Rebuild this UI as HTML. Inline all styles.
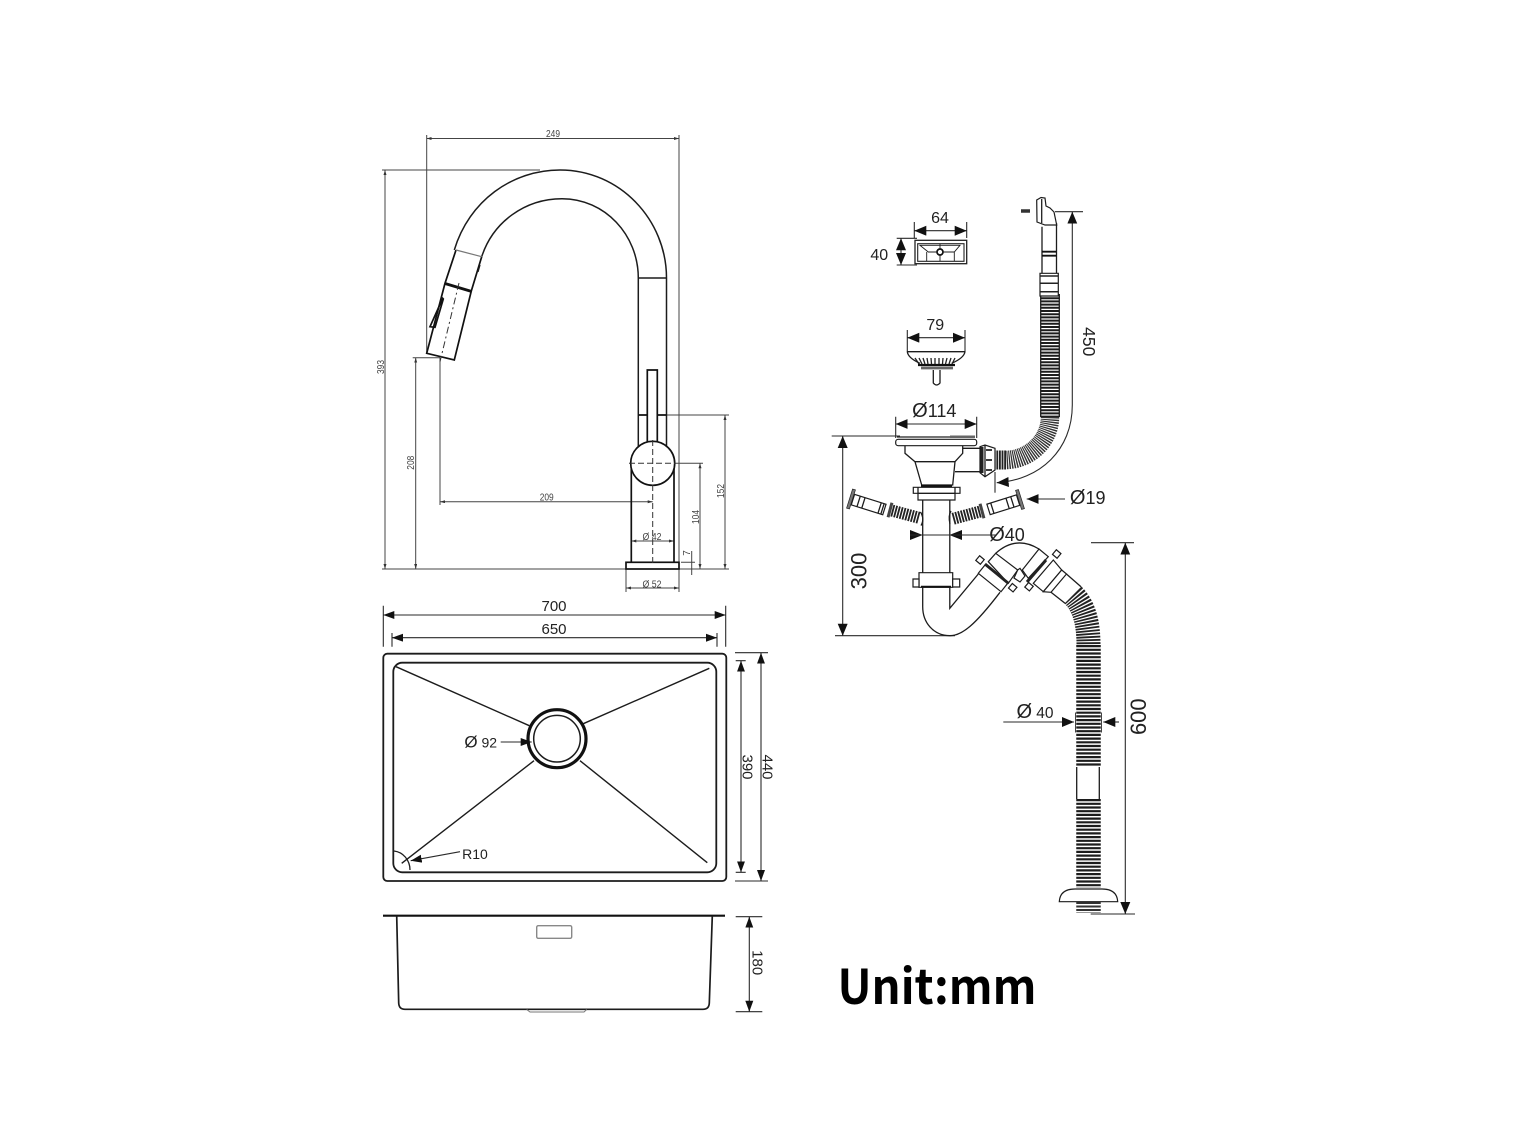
<!DOCTYPE html>
<html><head><meta charset="utf-8"><title>Sink, faucet and drain dimensions</title>
<style>
html,body{margin:0;padding:0;background:#fff;}
svg{display:block;}
text{font-family:"Liberation Sans",sans-serif;fill:#222;text-anchor:middle;}
.s{font-size:10px;fill:#444;}
.m{font-size:15px;}
.l{font-size:18px;}
.t{fill:none;stroke:#1c1c1c;stroke-width:1.3;}
.d{fill:none;stroke:#2a2a2a;stroke-width:1.1;}
.g{fill:none;stroke:#444;stroke-width:1;}
.k{fill:none;stroke:#111;stroke-width:1.7;}
.w{fill:#fff;stroke:#1c1c1c;stroke-width:1.2;}
</style></head><body>
<svg width="1524" height="1143" viewBox="0 0 1524 1143" xmlns="http://www.w3.org/2000/svg">
<defs>
<marker id="a" markerUnits="userSpaceOnUse" markerWidth="12" markerHeight="10" refX="11" refY="4" orient="auto-start-reverse"><path d="M0 0L11 4L0 8Z" fill="#111"/></marker>
<marker id="b" markerUnits="userSpaceOnUse" markerWidth="14" markerHeight="12" refX="12" refY="5" orient="auto-start-reverse"><path d="M0 0L12 5L0 10Z" fill="#111"/></marker>
<marker id="c" markerUnits="userSpaceOnUse" markerWidth="7" markerHeight="5" refX="5" refY="1.5" orient="auto-start-reverse"><path d="M0 0L5 1.5L0 3Z" fill="#333"/></marker>
</defs>

<!-- FAUCET -->
<g class="g">
<path d="M426.7 135V353M679 135V569M382 170H540M382 569H626M679 569H729M666 415H729M676 463.3H703M412.7 357.7H440M440 358V505M626 569V592M679 569V592M681 562.3H695M681 569H695"/>
<path d="M426.7 138.5H679" marker-start="url(#c)" marker-end="url(#c)"/>
<path d="M385 170V569" marker-start="url(#c)" marker-end="url(#c)"/>
<path d="M415.7 357.7V569" marker-start="url(#c)" marker-end="url(#c)"/>
<path d="M440 501.7H652.7" marker-start="url(#c)" marker-end="url(#c)"/>
<path d="M725 415V569" marker-start="url(#c)" marker-end="url(#c)"/>
<path d="M700 463.3V569" marker-start="url(#c)" marker-end="url(#c)"/>
<path d="M631.3 541H674" marker-start="url(#c)" marker-end="url(#c)"/>
<path d="M626 588H679" marker-start="url(#c)" marker-end="url(#c)"/>
<path d="M691.7 551V575"/>
</g>
<path class="t" style="stroke-width:1.5" d="M454.3 250C469 201 512 170 560 170C620 170 666.5 220 666.5 278V447M481.7 256.7C493 222 525 198.7 562 198.7C605 198.7 638.3 235 638.3 278V447M638.3 278H666.5"/>
<path class="k" d="M638.3 415H647.3M657.3 415H666.5"/>
<path class="k" d="M647.3 445V370H657.3V445"/>
<path class="k" d="M631.3 463V561.7M674 463V561.7"/>
<circle cx="652.7" cy="463.3" r="22" fill="#fff" stroke="#111" stroke-width="1.700"/>
<rect x="626" y="562.3" width="53" height="6.7" fill="#fff" stroke="#111" stroke-width="1.700"/>
<path d="M652.7 440V566M629 463.3H676" fill="none" stroke="#333" stroke-width="1" stroke-dasharray="6 3"/>
<path class="k" d="M456 250L445 283.300L426.700 353.300L454.300 360L471.300 291L481.700 256.700"/>
<path d="M445 283.500L471.700 291.500" stroke="#111" stroke-width="2.800" fill="none"/>
<path d="M456 250L481.700 256.700" stroke="#777" stroke-width="1.200" fill="none"/>
<path d="M459 283L440 361.700" stroke="#333" stroke-width="1" stroke-dasharray="7 3 2 3" fill="none"/>
<path class="k" fill="#fff" d="M442.700 298.300L430 326.700L435 327.300L443.300 299Z"/>
<path class="t" d="M480 265L478 272"/>
<text class="s" x="553" y="137" textLength="14" lengthAdjust="spacingAndGlyphs">249</text>
<text class="s" transform="translate(384 367) rotate(-90)" textLength="14" lengthAdjust="spacingAndGlyphs">393</text>
<text class="s" transform="translate(414 462.700) rotate(-90)" textLength="14" lengthAdjust="spacingAndGlyphs">208</text>
<text class="s" x="546.700" y="500.500" textLength="14" lengthAdjust="spacingAndGlyphs">209</text>
<text class="s" transform="translate(724 491) rotate(-90)" textLength="14" lengthAdjust="spacingAndGlyphs">152</text>
<text class="s" transform="translate(699 517) rotate(-90)" textLength="14" lengthAdjust="spacingAndGlyphs">104</text>
<text class="s" transform="translate(690 553) rotate(-90)">7</text>
<text class="s" x="652" y="540" textLength="19" lengthAdjust="spacingAndGlyphs">Ø 42</text>
<text class="s" x="652" y="587.500" textLength="19" lengthAdjust="spacingAndGlyphs">Ø 52</text>

<!-- SINK TOP -->
<g class="d">
<path d="M383.3 605.7V646.7M725.7 605.7V646.7M392 633V646.7M717 633V646.7M735 652.7H768M735 881H768M735.700 660.700H745.700M735.700 872.300H745.700"/>
<path d="M383.3 615H725.7" marker-start="url(#a)" marker-end="url(#a)"/>
<path d="M392 637.700H717" marker-start="url(#a)" marker-end="url(#a)"/>
<path d="M741 660.700V872.300" marker-start="url(#a)" marker-end="url(#a)"/>
<path d="M761 652.700V881" marker-start="url(#a)" marker-end="url(#a)"/>
</g>
<rect x="383.300" y="653.700" width="343" height="227.300" rx="4" fill="none" stroke="#1c1c1c" stroke-width="1.800"/>
<rect x="393.300" y="662.700" width="323" height="209.600" rx="9" fill="none" stroke="#1c1c1c" stroke-width="1.800"/>
<path class="t" style="stroke-width:1.400" d="M396 666.700L529.300 725.700M709.300 668.300L583.300 723.700M401.700 863.300L534 760.700M707.300 862.700L580 760.700"/>
<circle cx="557" cy="738.700" r="29" fill="none" stroke="#111" stroke-width="3.200"/>
<circle cx="557" cy="738.700" r="23.300" fill="none" stroke="#1c1c1c" stroke-width="1.500"/>
<path class="t" d="M394 851C403 852 410 860 410 870"/>
<path class="d" d="M500.700 742H531.700" marker-end="url(#a)"/>
<path class="d" d="M460 851.700L410.700 860.700" marker-end="url(#a)"/>
<text class="m" x="554" y="611">700</text>
<text class="m" x="554" y="634">650</text>
<text x="480.700" y="747.500" style="font-size:14px"><tspan style="font-size:17px">Ø</tspan> 92</text>
<text x="475" y="859" style="font-size:14px">R10</text>
<text class="m" transform="translate(742.500 767) rotate(90)">390</text>
<text class="m" transform="translate(762.700 767) rotate(90)">440</text>

<!-- SINK SIDE -->
<path d="M383 915.700H725" stroke="#111" stroke-width="2.200" fill="none"/>
<path class="t" style="stroke-width:1.700" d="M396.700 915.700L398.700 1003Q399 1009.300 405 1009.300H703Q709 1009.300 709.300 1003L712.300 915.700"/>
<rect x="536.700" y="925.700" width="35" height="12.600" rx="1.500" fill="none" stroke="#888" stroke-width="1.400"/>
<path d="M526.700 1009.500L530 1012H584L586.700 1009.500" fill="none" stroke="#777" stroke-width="1"/>
<g class="d"><path d="M735.700 916.700H762.300M735.700 1011.700H762.300"/>
<path d="M749.300 916.700V1011.700" marker-start="url(#a)" marker-end="url(#a)"/></g>
<text class="m" transform="translate(752.400 962.700) rotate(90)">180</text>

<text x="937" y="1004" style="font-family:'Noto Sans CJK SC','Liberation Sans',sans-serif;font-weight:700;font-size:48px;fill:#000;" textLength="199" lengthAdjust="spacingAndGlyphs">Unit:mm</text>

<!-- RIGHT: BOX -->
<rect x="915" y="240.300" width="51.700" height="23.400" fill="none" stroke="#222" stroke-width="1.300"/>
<rect x="917.700" y="243.700" width="46.300" height="17.600" fill="none" stroke="#222" stroke-width="1.100"/>
<path class="t" style="stroke-width:.9" d="M920 245.300H960L954.300 252H928.300ZM926.700 252V261M954.300 252V261M940 243.700V261.300"/>
<circle cx="940" cy="252" r="3" fill="#fff" stroke="#111" stroke-width="1.700"/>
<g class="d"><path d="M914.300 222V238M966.700 222V238M896.700 238.300H917M896.700 265H917"/>
<path d="M914.300 230.700H966.700" marker-start="url(#b)" marker-end="url(#b)"/>
<path d="M901 238.300V265" marker-start="url(#b)" marker-end="url(#b)"/></g>
<text x="940" y="223" style="font-size:16px">64</text>
<text x="879.300" y="260" style="font-size:16px">40</text>

<!-- STRAINER -->
<g class="d"><path d="M907.300 330V352M965 330V352"/>
<path d="M907.300 337.700H965" marker-start="url(#b)" marker-end="url(#b)"/></g>
<text x="935.300" y="330" style="font-size:16px">79</text>
<path class="t" d="M907.300 351.700H965"/>
<path class="t" d="M907.300 351.700Q908 358 920 363.300M965 351.700Q964 358 951.700 363.300"/>
<path d="M915 358L919 364M919 358L922 364M923 358L925 364M927 358L928 364M931 358L931.500 364M935 358V364M939 358V364M943 358L942.500 364M947 358L945.500 364M951 358L949 364M955 358L952 364" stroke="#222" stroke-width="1.300" fill="none"/>
<path d="M918 365H955" stroke="#111" stroke-width="2.200" fill="none"/>
<path d="M921 368H953" stroke="#666" stroke-width="2.800" fill="none"/>
<path class="t" d="M933.300 370V383Q936.500 387 940 383V370"/>

<!-- DRAIN BODY -->
<g class="d"><path d="M895.700 416.700V438M976.700 416.700V438M831.700 436H900"/>
<path d="M895.700 424H976.700" marker-start="url(#b)" marker-end="url(#b)"/>
<path d="M842.700 436V635.700" marker-start="url(#b)" marker-end="url(#b)"/>
<path d="M835 635.700H955"/></g>
<text class="l" x="934.300" y="417"><tspan style="font-size:20px">Ø</tspan>114</text>
<text transform="translate(866.500 571) rotate(-90)" style="font-size:22px">300</text>
<path d="M897 437H950" stroke="#222" stroke-width="1.300" fill="none"/>
<path d="M950 436.800H975" stroke="#666" stroke-width="2.500" fill="none"/>
<rect x="895.700" y="439.300" width="81" height="6.400" rx="2.500" fill="#fff" stroke="#1c1c1c" stroke-width="1.200"/>
<path class="t" d="M905 446V453.300L915 461.700L921.700 485H952.700L955 461.700L962.700 453.300V446"/>
<path class="t" d="M915 461.700H955M962.700 448.300H980M955 471.700H980"/>

<!-- COLLAR TOP -->
<path d="M921 485.800H952" stroke="#111" stroke-width="2.400" fill="none"/>
<path class="w" d="M913.300 487.300H960V493.300H955V500H918V493.300H913.300Z"/>
<path class="t" d="M918 487.300V493.300H955V487.300"/>
<path class="t" d="M922.700 500V573M949.800 500V573"/>
<path class="w" d="M919 572.700H952.700V587.300H919Z"/>
<path class="w" d="M913 579H919V587H913ZM952.700 579H959.700V587H952.700Z"/>
<path d="M921 586.800H951" stroke="#111" stroke-width="2" fill="none"/>

<!-- TRAP -->
<path class="t" d="M922.700 587.300V606.700C922.700 622 933 635.700 950 635.700C962 635.700 975 625 1000 592.300M949.800 587.300V608.300L978.300 574"/>
<!-- left elbow collar -->
<path class="w" d="M988.300 561.700L995.700 553.300L1017.700 570L1008.300 583.300Z"/>
<path class="w" d="M985 565L1007.700 583.300L1001 591.700L978.300 573.300Z"/>
<path d="M985 564L1008 583" stroke="#222" stroke-width="2.800" fill="none"/>
<rect x="-3" y="-3" width="6" height="6" class="w" transform="translate(980 560) rotate(40)"/>
<rect x="-3" y="-3" width="6" height="6" class="w" transform="translate(1012.700 587.700) rotate(40)"/>
<path class="w" d="M1017.700 570L1020 568.300L1025 576L1020 582L1014 578Z"/>
<path class="t" d="M995.700 553.300Q1016 535 1039 549"/>
<!-- right elbow collar -->
<path class="w" d="M1039 549L1048.300 556.700L1028.300 578.300L1022.300 570Z"/>
<path d="M1046 560L1027 582" stroke="#222" stroke-width="3" fill="none"/>
<path class="w" d="M1053.300 560L1061.700 570L1043.300 591.700L1033.300 583.300Z"/>
<path class="w" d="M1061.700 570L1066.500 574L1051 592.300L1043.300 591.700Z"/>
<rect x="-3" y="-3" width="6" height="6" class="w" transform="translate(1056.700 554) rotate(40)"/>
<rect x="-3" y="-3" width="6" height="6" class="w" transform="translate(1029 586.700) rotate(40)"/>
<path class="t" d="M1066.700 574.300L1081 586.700M1051 592.300L1065 603.300"/>

<!-- SIDE PIPES -->
<g transform="translate(851 499) rotate(17.500)">
<rect x="-1.500" y="-10" width="3" height="20" fill="#777" stroke="#222" stroke-width=".7"/>
<path class="w" d="M2 -5.500H35V5.500H2Z"/><path class="t" d="M8 -5.500V5.500M13 -5.500V5.500M30 -5.500V5.500M33 -5.500V5.500"/>
</g>
<g transform="translate(890 510) rotate(15)">
<rect x="-1.500" y="-7.500" width="3" height="15" fill="#444"/>
<path d="M2 0H30" stroke="#222" stroke-width="12" stroke-dasharray="1.800 1.100" fill="none"/>
<path class="t" d="M30 -6Q36 0 34 7"/>
</g>
<g transform="translate(982 511) rotate(165)">
<rect x="-1.500" y="-7.500" width="3" height="15" fill="#444"/>
<path d="M2 0H30" stroke="#222" stroke-width="12" stroke-dasharray="1.800 1.100" fill="none"/>
</g>
<path class="t" d="M951 511Q948 516 950 524"/>
<g transform="translate(1020 499.500) rotate(-17.500)">
<rect x="-1.500" y="-10" width="3" height="20" fill="#777" stroke="#222" stroke-width=".7"/>
<path class="w" d="M-2 -5.500H-33V5.500H-2Z"/><path class="t" d="M-8 -5.500V5.500M-13 -5.500V5.500M-29 -5.500V5.500"/>
</g>
<path class="d" d="M1065 499H1026.700" marker-end="url(#b)"/>
<text class="l" x="1087.700" y="504"><tspan style="font-size:20px">Ø</tspan>19</text>
<path d="M910 530V540L922.700 535Z" fill="#111"/>
<path d="M962 530V540L949.300 535Z" fill="#111"/>
<path class="d" d="M910 535H996.700"/>
<text class="l" x="1007" y="541"><tspan style="font-size:20px">Ø</tspan>40</text>

<!-- OVERFLOW HOSE -->
<path d="M1050 294V417" fill="none" stroke="#1c1c1c" stroke-width="18.500" stroke-dasharray="2 1.200"/>
<path d="M1050 417C1050 440 1030 460 1005 460" fill="none" stroke="#333" stroke-width="18.500" stroke-dasharray="1.300 .9"/>
<path d="M1006 460H995" fill="none" stroke="#222" stroke-width="19" stroke-dasharray="1.800 .8"/>
<path class="t" d="M1040.700 294V417M1059.300 294V417"/>
<path class="w" d="M980 446.700L985 445L995 448.300V470L985 476.700L980 472.700Z"/>
<path d="M982 447V473" stroke="#222" stroke-width="3" fill="none"/>
<path class="t" d="M985 445V476.700"/>
<path d="M986 450H992M986 460H992M986 470H992" stroke="#222" stroke-width="1.800" fill="none"/>
<path class="t" d="M1042 273V226.700M1056.500 223V273"/>
<path d="M1042 251.700H1056.500M1042 255.700H1056.500" stroke="#111" stroke-width="1.800" fill="none"/>
<path class="w" d="M1040 273.300H1058.300V296H1040Z"/>
<path d="M1040 276H1058.300M1040 283.300H1058.300M1040 291.700H1058.300" stroke="#222" stroke-width="1.500" fill="none"/>
<path class="w" d="M1036.700 200L1041 197.500L1045 198L1046 206L1050 208L1054 212L1056.700 225L1045 225L1037 222Z"/>
<path class="t" d="M1041.700 199V223"/>
<path d="M1021 211H1030" stroke="#333" stroke-width="3.500" fill="none"/>
<path class="d" d="M1055 211.700H1083"/>
<path class="d" d="M1072.300 211.700V405C1072.300 450 1040 480 996.700 482.700" marker-start="url(#b)" marker-end="url(#b)"/>
<path class="d" d="M995 472V492.700"/>
<text transform="translate(1083 341.700) rotate(90)" style="font-size:17.500px">450</text>

<!-- WASTE HOSE -->
<path d="M1073 595C1085 607 1088.500 625 1088.500 645" fill="none" stroke="#222" stroke-width="24" stroke-dasharray="1.800 1.200"/>
<path d="M1088.500 645V767" fill="none" stroke="#1c1c1c" stroke-width="24.500" stroke-dasharray="2.200 1.500"/>
<path d="M1088.500 799V888" fill="none" stroke="#1c1c1c" stroke-width="24.500" stroke-dasharray="2.200 1.500"/>
<path d="M1088.500 902V913" fill="none" stroke="#333" stroke-width="24.500" stroke-dasharray="2 1.500"/>
<path class="t" d="M1076.700 767V799M1099.300 767V799"/>
<path d="M1075.500 712.500V732.500M1101.500 712.500V732.500" stroke="#444" stroke-width="1" fill="none"/>
<path class="w" d="M1059.300 901.700Q1060 889 1075 889H1102Q1117 889 1117.700 901.700Z"/>
<path class="d" d="M1003.300 722H1074" marker-end="url(#b)"/>
<path class="d" d="M1119 722H1103.300" marker-end="url(#b)"/>
<text x="1035" y="718" style="font-size:15.500px"><tspan style="font-size:20px">Ø</tspan> 40</text>
<path class="d" d="M1091 542.700H1134M1090.700 914H1135"/>
<path class="d" d="M1125.300 542.700V914" marker-start="url(#b)" marker-end="url(#b)"/>
<text transform="translate(1146 716.700) rotate(-90)" style="font-size:22px">600</text>
</svg>
</body></html>
